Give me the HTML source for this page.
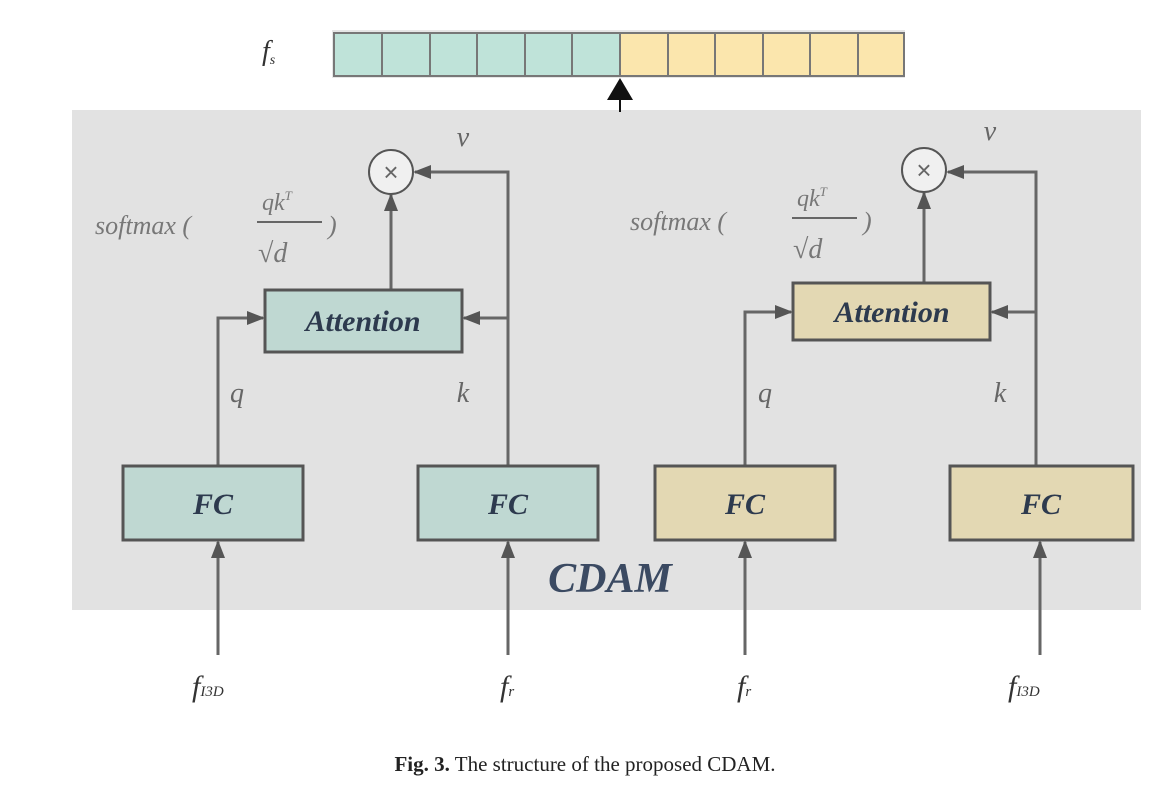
<!DOCTYPE html>
<html><head><meta charset="utf-8"><style>
html,body{margin:0;padding:0;background:#fff;}
svg{display:block;}
.m{font-family:"Liberation Serif",serif;font-style:italic;}
</style></head><body>
<svg width="1170" height="793" viewBox="0 0 1170 793" xmlns="http://www.w3.org/2000/svg">
<defs>
<marker id="a" markerWidth="18" markerHeight="18" refX="16" refY="9" orient="auto" markerUnits="userSpaceOnUse" viewBox="0 0 18 18">
<path d="M0,2 L18,9 L0,16 z" fill="#555"/></marker>
</defs>
<text x="262" y="60" class="m" font-size="28" fill="#333">f<tspan font-size="14" dy="4">s</tspan></text>
<rect x="332" y="30" width="573" height="48" fill="#e6e6e6"/>
<g stroke="#777" stroke-width="2">
<rect x="334" y="33" width="286" height="43" fill="#bfe3d9"/>
<rect x="620" y="33" width="284" height="43" fill="#fbe6ad"/>
<line x1="382" y1="33" x2="382" y2="76"/><line x1="430" y1="33" x2="430" y2="76"/><line x1="477" y1="33" x2="477" y2="76"/><line x1="525" y1="33" x2="525" y2="76"/><line x1="572" y1="33" x2="572" y2="76"/>
<line x1="668" y1="33" x2="668" y2="76"/><line x1="715" y1="33" x2="715" y2="76"/><line x1="763" y1="33" x2="763" y2="76"/><line x1="810" y1="33" x2="810" y2="76"/><line x1="858" y1="33" x2="858" y2="76"/>
</g>
<rect x="72" y="110" width="1069" height="500" fill="#e2e2e2"/>
<line x1="620" y1="112" x2="620" y2="82" stroke="#111" stroke-width="2"/>
<path d="M620,78 L633,100 L607,100 z" fill="#111"/>

<g stroke="#666" stroke-width="3" fill="none">
<path d="M218,465 V318 H263" marker-end="url(#a)"/>
<path d="M508,465 V172 H415" marker-end="url(#a)"/>
<path d="M508,318 H464" marker-end="url(#a)"/>
<path d="M391,290 V195" marker-end="url(#a)"/>
<path d="M218,655 V542" marker-end="url(#a)"/>
<path d="M508,655 V542" marker-end="url(#a)"/>
<path d="M745,465 V312 H791" marker-end="url(#a)"/>
<path d="M1036,465 V172 H948" marker-end="url(#a)"/>
<path d="M1036,312 H992" marker-end="url(#a)"/>
<path d="M924,283 V193" marker-end="url(#a)"/>
<path d="M745,655 V542" marker-end="url(#a)"/>
<path d="M1040,655 V542" marker-end="url(#a)"/>
</g>

<g stroke="#555" stroke-width="3">
<rect x="265" y="290" width="197" height="62" fill="#bfd8d2"/>
<rect x="123" y="466" width="180" height="74" fill="#bfd8d2"/>
<rect x="418" y="466" width="180" height="74" fill="#bfd8d2"/>
<rect x="793" y="283" width="197" height="57" fill="#e3d8b3"/>
<rect x="655" y="466" width="180" height="74" fill="#e3d8b3"/>
<rect x="950" y="466" width="183" height="74" fill="#e3d8b3"/>
</g>
<g stroke="#555" stroke-width="2" fill="#f0f0f0">
<circle cx="391" cy="172" r="22"/><circle cx="924" cy="170" r="22"/>
</g>
<g font-family="Liberation Sans,sans-serif" font-size="26" fill="#666" text-anchor="middle">
<text x="391" y="181">×</text><text x="924" y="179">×</text>
</g>

<g class="m" fill="#2d3a4e" font-weight="bold" text-anchor="middle">
<text x="363" y="331" font-size="30">Attention</text>
<text x="892" y="322" font-size="30">Attention</text>
<text x="213" y="514" font-size="30">FC</text>
<text x="508" y="514" font-size="30">FC</text>
<text x="745" y="514" font-size="30">FC</text>
<text x="1041" y="514" font-size="30">FC</text>
<text x="610" y="592" font-size="42" fill="#3b4a62">CDAM</text>
</g>

<g class="m" fill="#666" font-size="28" text-anchor="middle">
<text x="463" y="146">v</text><text x="990" y="140">v</text>
<text x="237" y="402">q</text><text x="463" y="402">k</text>
<text x="765" y="402">q</text><text x="1000" y="402">k</text>
</g>
<g class="m" fill="#777" font-size="26">
<text x="95" y="234">softmax (</text>
<text x="262" y="210" font-size="24">qk<tspan font-size="13" dy="-10">T</tspan></text>
<line x1="257" y1="222" x2="322" y2="222" stroke="#666" stroke-width="2"/>
<text x="258" y="262" font-size="28">√<tspan>d</tspan></text>
<text x="328" y="234">)</text>
<text x="630" y="230">softmax (</text>
<text x="797" y="206" font-size="24">qk<tspan font-size="13" dy="-10">T</tspan></text>
<line x1="792" y1="218" x2="857" y2="218" stroke="#666" stroke-width="2"/>
<text x="793" y="258" font-size="28">√<tspan>d</tspan></text>
<text x="863" y="230">)</text>
</g>
<g class="m" fill="#333" font-size="30">
<text x="192" y="696">f<tspan font-size="15">I3D</tspan></text>
<text x="500" y="696">f<tspan font-size="15">r</tspan></text>
<text x="737" y="696">f<tspan font-size="15">r</tspan></text>
<text x="1008" y="696">f<tspan font-size="15">I3D</tspan></text>
</g>
<text x="585" y="771" text-anchor="middle" font-family="Liberation Serif,serif" font-size="21" fill="#222"><tspan font-weight="bold">Fig. 3.</tspan>  The structure of the proposed CDAM.</text>
</svg>
</body></html>
